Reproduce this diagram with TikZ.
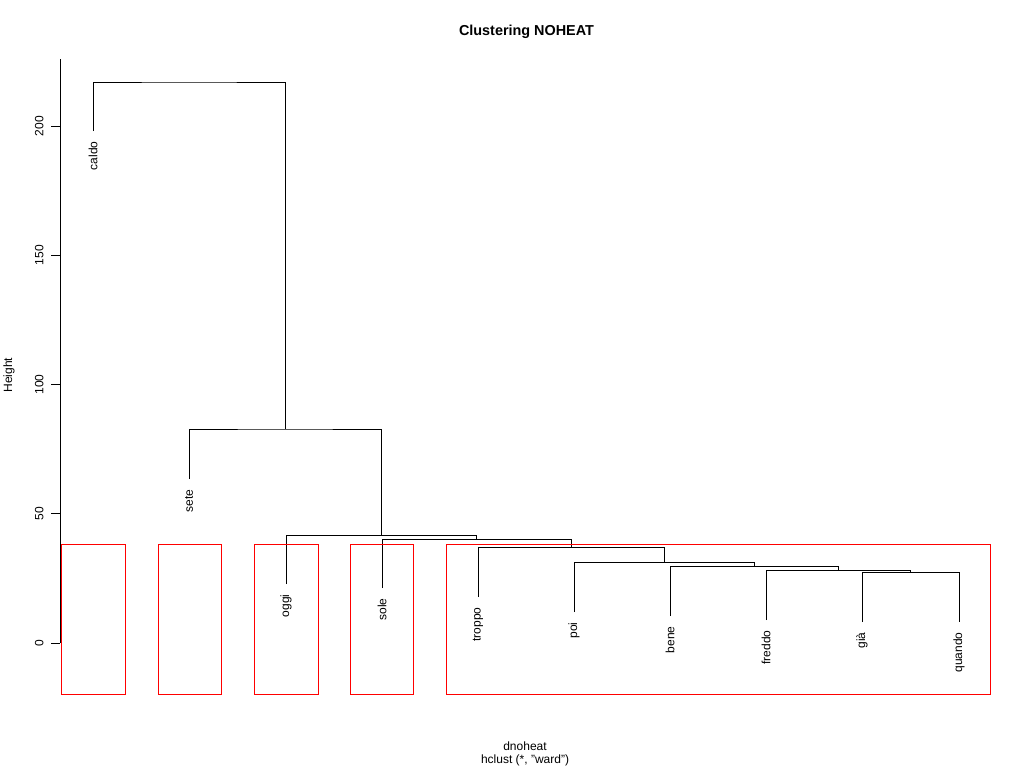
\documentclass[tikz,border=0pt]{standalone}
\usepackage{fontspec}
\setmainfont{Liberation Sans}
\usepackage{tikz}

\tikzset{
  leaflabel/.style={rotate=90, anchor=east, inner sep=0pt, font=\fontsize{9}{10}\selectfont},
  ticklabel/.style={rotate=90, anchor=south, inner sep=0pt, font=\fontsize{9}{10}\selectfont},
  plaintext/.style={inner sep=0pt, font=\fontsize{9}{10}\selectfont},
  clusterbox/.style={draw=red, line width=0.75pt}
}

\begin{document}
\begin{tikzpicture}[x=0.75pt,y=0.75pt,yscale=-1,xscale=1,line width=0.75pt]
\path[use as bounding box] (0,0) rectangle (1024,768);

        % title and axis texts
        \node[plaintext, font=\fontsize{10.8}{12}\selectfont\bfseries] (title) at (526.5,32) {Clustering NOHEAT};
        \node[plaintext] (xlab) at (525,746) {dnoheat};
        \node[plaintext] (sublab) at (525,760) {hclust (*, "ward")};
        \node[plaintext, rotate=90] (ylab) at (9,375) {Height};

        % y axis
        \coordinate (ytop) at (60,59);
        \coordinate (ybot) at (60,643);
        \draw (ytop) -- (ybot);
        \foreach \h in {0,50,100,150,200} {
            \coordinate (tick\h) at (60,{643-2.585*\h});
            \draw (tick\h) -- ++(-9,0);
            \node[ticklabel] (tl\h) at (44,{643-2.585*\h}) {\h};
        }

        % leaves: name / text / x / bottom of leg
        \foreach \nm/\txt/\x/\y in {caldo/caldo/93/131, sete/sete/189/479, oggi/oggi/286/584,
            sole/sole/382/588, troppo/troppo/478/597, poi/poi/574/612, bene/bene/670/616,
            freddo/freddo/766/620, gia/già/862/622, quando/quando/959/622} {
            \coordinate (\nm) at (\x,\y);
            \node[leaflabel] (l\nm) at (\x,\y+10) {\txt};
        }

        % merge points (centre of each bar)
        \coordinate (m1) at (910.5,572);
        \coordinate (m2) at (838.5,570);
        \coordinate (m3) at (754,566);
        \coordinate (m4) at (664,562);
        \coordinate (m5) at (571,547);
        \coordinate (m6) at (476.5,539);
        \coordinate (m7) at (381,535);
        \coordinate (m8) at (285,429);
        \coordinate (m9) at (189,82);

        % branches
        \foreach \a/\m/\b in {gia/m1/quando, freddo/m2/m1, bene/m3/m2, poi/m4/m3,
            troppo/m5/m4, sole/m6/m5, oggi/m7/m6, sete/m8/m7, caldo/m9/m8} {
            \draw (\a) |- (\m) -| (\b);
        }

        % cut boxes
        \draw[clusterbox] (61,544) rectangle (125,694);
        \draw[clusterbox] (158,544) rectangle (221,694);
        \draw[clusterbox] (254,544) rectangle (318,694);
        \draw[clusterbox] (350,544) rectangle (413,694);
        \draw[clusterbox] (446,544) rectangle (990,694);
\end{tikzpicture}
\end{document}
